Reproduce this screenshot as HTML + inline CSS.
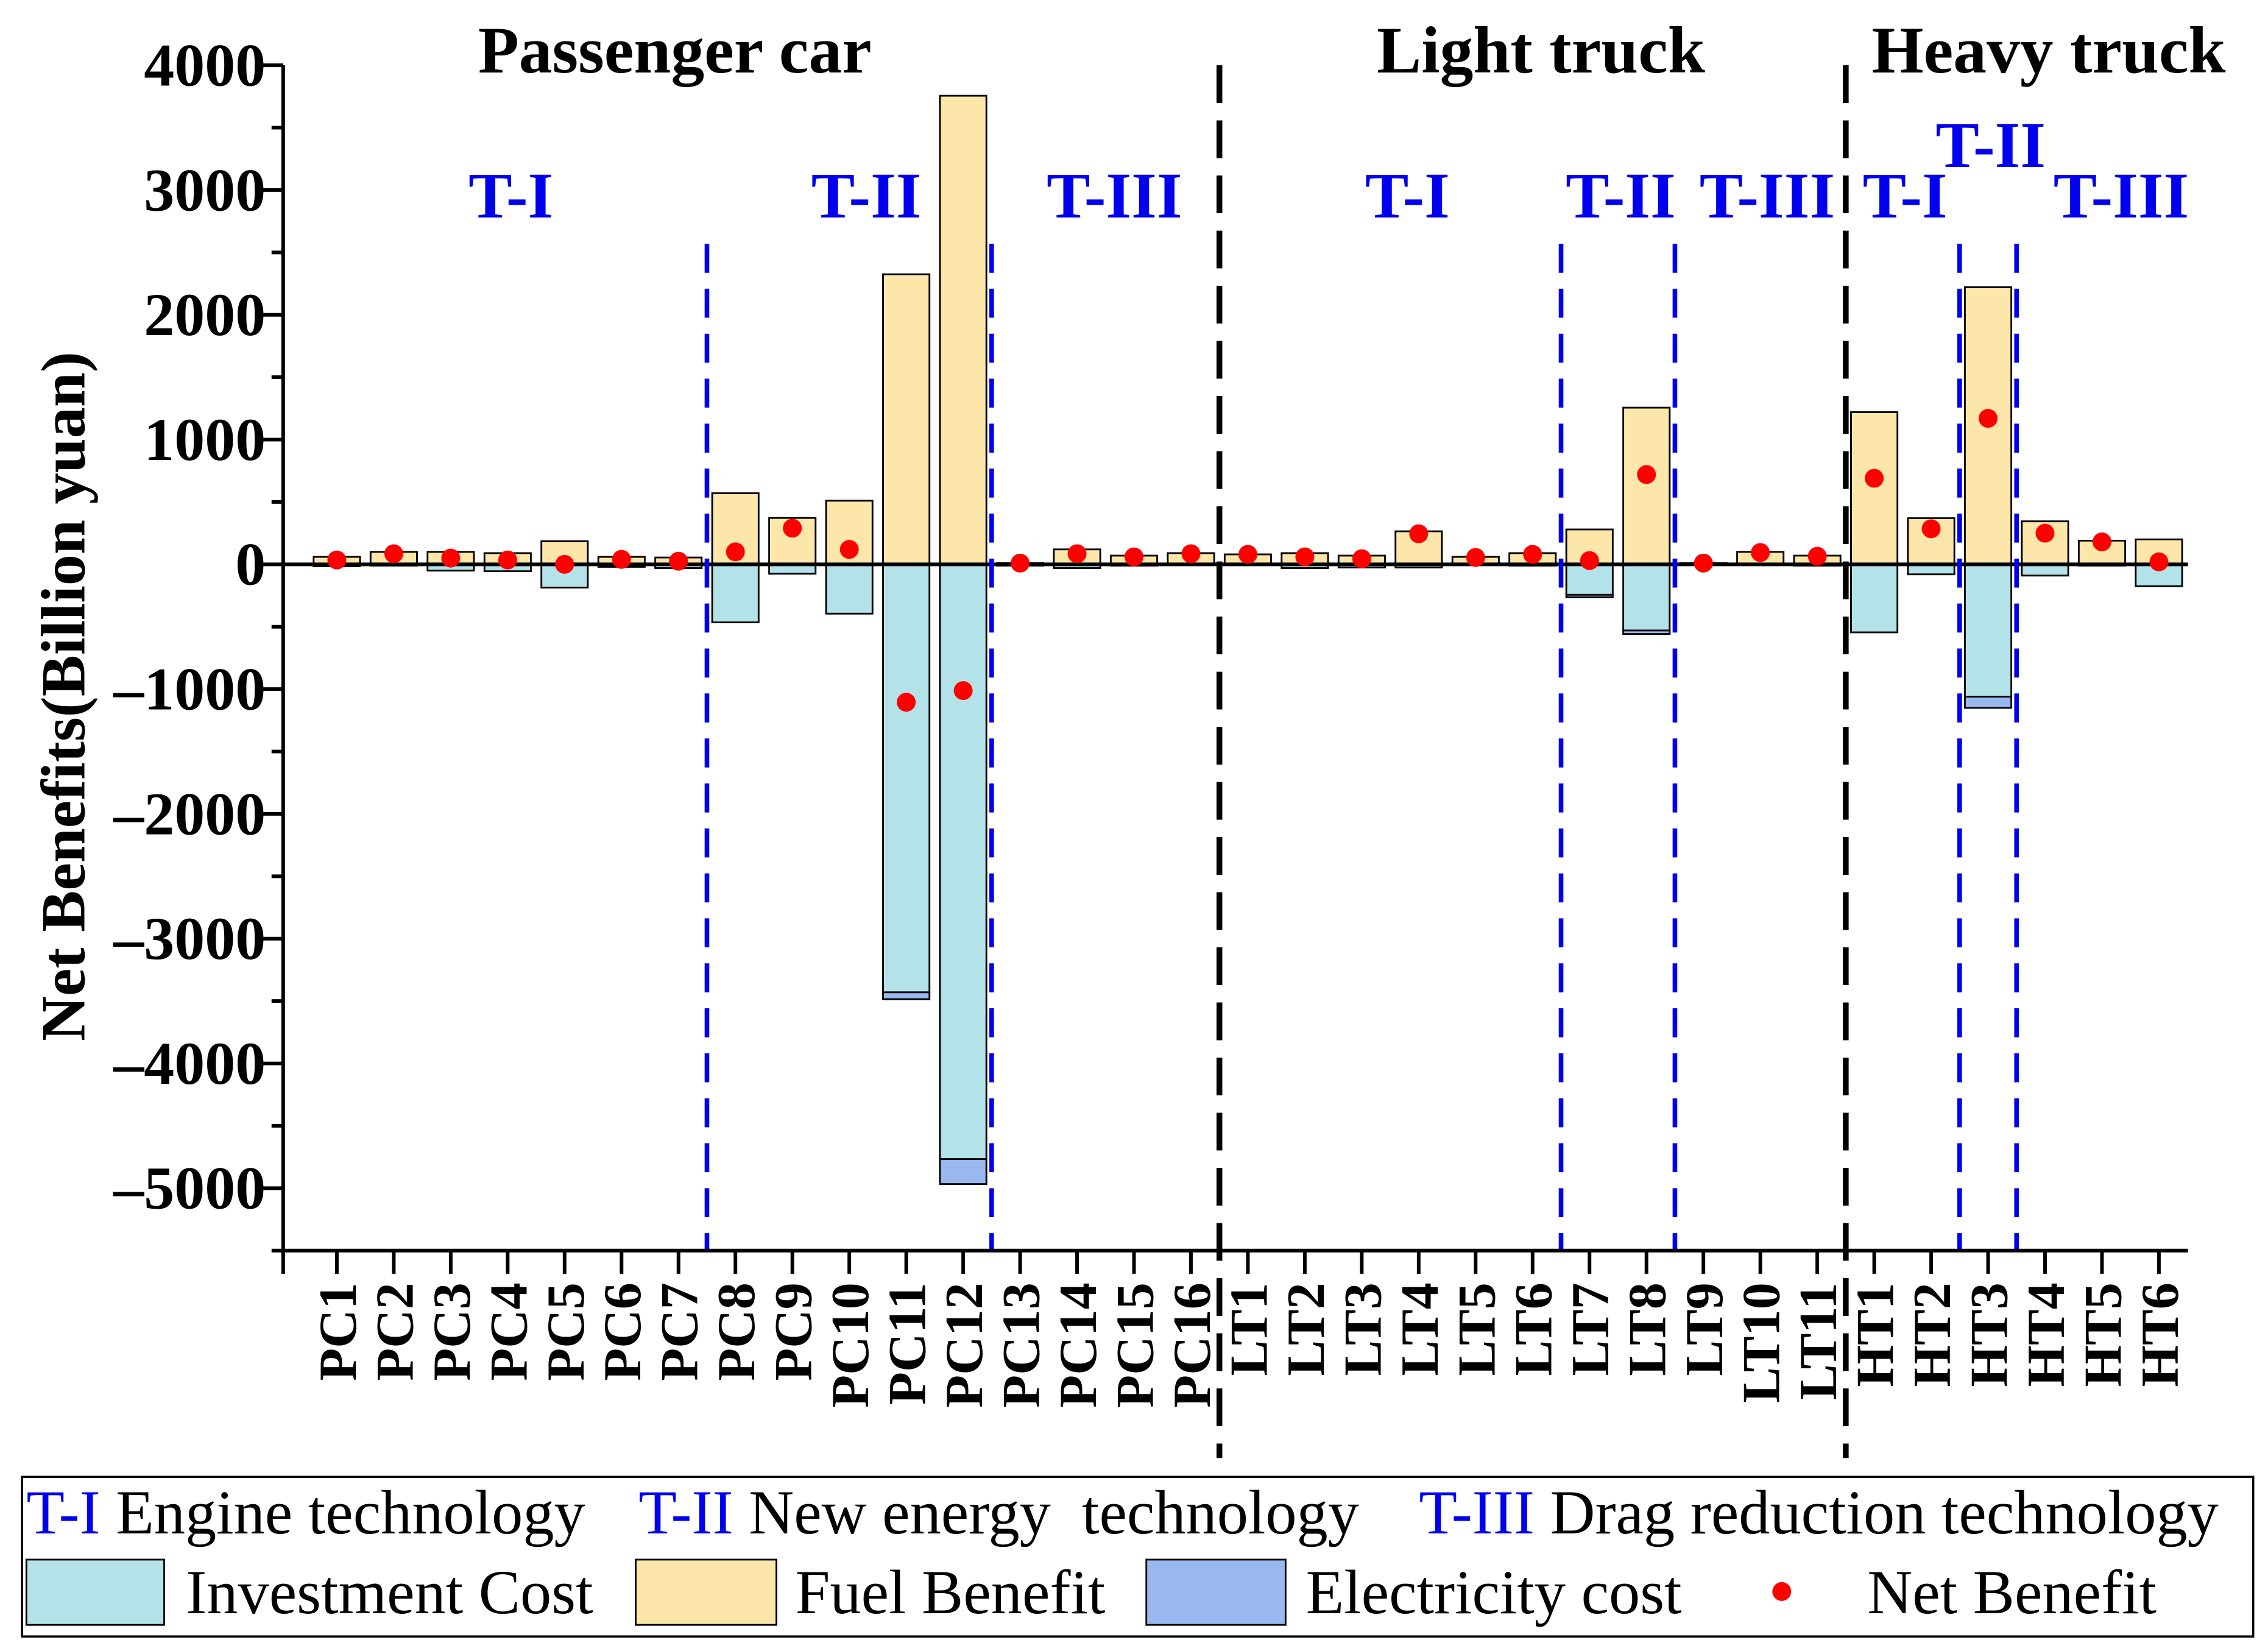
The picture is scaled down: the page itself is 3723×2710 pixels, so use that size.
<!DOCTYPE html>
<html><head><meta charset="utf-8"><style>
html,body{margin:0;padding:0;background:#fff}
svg{display:block}
text{font-family:"Liberation Serif","DejaVu Serif",serif}
</style></head><body>
<svg id="chart" xmlns="http://www.w3.org/2000/svg" width="3723" height="2710" viewBox="0 0 1563 1138" font-family="Liberation Serif, serif">
<rect x="0" y="0" width="1563" height="1138" fill="#fff"/>
<g id="plot"></g>
<g id="legend" font-family="Liberation Serif, serif">
<rect x="15" y="1018" width="1538" height="110" fill="#fff" stroke="#000" stroke-width="1.5"/>
<text x="18" y="1057" font-size="43"><tspan fill="#0000ee">T-I</tspan> Engine technology</text>
<text x="440" y="1057" font-size="43" xml:space="preserve"><tspan fill="#0000ee">T-II</tspan> New energy  technology</text>
<text x="978" y="1057" font-size="43"><tspan fill="#0000ee">T-III</tspan> Drag reduction technology</text>
<rect x="18" y="1075" width="95" height="45" fill="#b3e3e8" stroke="#000" stroke-width="1.2"/>
<text x="128" y="1112" font-size="43">Investment Cost</text>
<rect x="438" y="1075" width="97" height="45" fill="#fde6aa" stroke="#000" stroke-width="1.2"/>
<text x="548" y="1112" font-size="43">Fuel Benefit</text>
<rect x="790" y="1075" width="96" height="45" fill="#9ab8f0" stroke="#000" stroke-width="1.2"/>
<text x="900" y="1112" font-size="43">Electricity cost</text>
<circle cx="1228" cy="1097" r="6.5" fill="#ff0000"/>
<text x="1287" y="1112" font-size="43">Net Benefit</text>
</g>
</svg>
<script>
const categories = ["PC1","PC2","PC3","PC4","PC5","PC6","PC7","PC8","PC9","PC10","PC11","PC12","PC13","PC14","PC15","PC16","LT1","LT2","LT3","LT4","LT5","LT6","LT7","LT8","LT9","LT10","LT11","HT1","HT2","HT3","HT4","HT5","HT6"];
const fuelBenefit = [60,100,100,90,185,60,55,570,372,510,2325,3756,10,120,70,90,80,90,70,265,60,90,280,1256,10,100,70,1220,370,2221,345,190,200];
const investmentCost = [-15,-10,-50,-55,-186,-20,-30,-465,-75,-395,-3430,-4767,-10,-30,-10,-5,-5,-30,-25,-25,-5,-10,-244,-530,-5,-5,-10,-545,-80,-1060,-90,-10,-175];
const electricityCost = [0,0,0,0,0,0,0,0,0,0,-55,-200,0,0,0,0,0,0,0,0,0,0,-20,-28,0,0,0,0,0,-90,0,0,0];
const netBenefit = [35,85,50,35,0,40,25,100,290,120,-1105,-1012,10,85,60,85,80,60,45,245,55,80,30,720,10,95,65,690,285,1170,250,180,20];
const yTicks = [4000,3000,2000,1000,0,-1000,-2000,-3000,-4000,-5000];
const yTickLabels = ["4000","3000","2000","1000","0","\u20131000","\u20132000","\u20133000","\u20134000","\u20135000"];
const groupTitles = [["Passenger car",465],["Light truck",1062],["Heavy truck",1412]];
const techLabels = [["T-I",352,150],["T-II",597,150],["T-III",768,150],["T-I",970,150],["T-II",1117,150],["T-III",1218,150],["T-I",1313,150],["T-II",1372,115],["T-III",1462,150]];
const groupDividers = [15.5,26.5];
const techDividers = [6.5,11.5,21.5,23.5,28.5,29.5];

const NS="http://www.w3.org/2000/svg";
const plot=document.getElementById('plot');
const X0=195, X1=1508, YT=45, YB=862, STEP=39.25, BW=32;
function xs(i){return 232+STEP*i;}
function ys(v){return 389 - v*0.086;}
function mk(tag,attrs,parent){const e=document.createElementNS(NS,tag);for(const k in attrs)e.setAttribute(k,attrs[k]);if(tag==='text')e.setAttribute('font-family','Liberation Serif, serif');(parent||plot).appendChild(e);return e;}

categories.forEach((c,i)=>{
  const x=xs(i)-BW/2;
  const f=mk('rect',{x:x,y:ys(fuelBenefit[i]),width:BW,height:ys(0)-ys(fuelBenefit[i]),fill:'#fde6aa',stroke:'#000','stroke-width':1.2});
  
  
  const inv=mk('rect',{x:x,y:ys(0),width:BW,height:ys(investmentCost[i])-ys(0),fill:'#b3e3e8',stroke:'#000','stroke-width':1.2});
  
  
  if(electricityCost[i]!==0){
    const top=investmentCost[i];
    const el=mk('rect',{x:x,y:ys(top),width:BW,height:ys(top+electricityCost[i])-ys(top),fill:'#9ab8f0',stroke:'#000','stroke-width':1.2});
    
    
  }
});
const zl=mk('line',{x1:X0,x2:X1,y1:ys(0),y2:ys(0),stroke:'#000','stroke-width':2.5});


categories.forEach((c,i)=>{
  const p=mk('circle',{cx:xs(i),cy:ys(netBenefit[i]),r:6.5,fill:'#ff0000'});
  
  
});
groupDividers.forEach(d=>{
  const l=mk('line',{x1:xs(d),x2:xs(d),y1:YT,y2:1005,stroke:'#000','stroke-width':4,'stroke-dasharray':'26 12'});
  
  
});
techDividers.forEach(d=>{
  const l=mk('line',{x1:xs(d),x2:xs(d),y1:168,y2:YB,stroke:'#0000ee','stroke-width':3.2,'stroke-dasharray':'20 11'});
  
  
});
const ya=mk('line',{x1:X0,x2:X0,y1:YT,y2:YB,stroke:'#000','stroke-width':2.5});


const xa=mk('line',{x1:X0,x2:X1,y1:YB,y2:YB,stroke:'#000','stroke-width':2.5});


yTicks.forEach((v,k)=>{
  const t=mk('line',{x1:X0-15,x2:X0,y1:ys(v),y2:ys(v),stroke:'#000','stroke-width':2.5});
  
  
  const lb=mk('text',{x:183,y:ys(v)+14,'font-size':42,'font-weight':'bold','text-anchor':'end'});
  lb.textContent=yTickLabels[k];
  
  
  const mv=v-500;
  if(mv>=-5500){
    const m=mk('line',{x1:X0-8,x2:X0,y1:ys(mv),y2:ys(mv),stroke:'#000','stroke-width':2.5});
    
    
  }
});
const t0=mk('line',{x1:X0,x2:X0,y1:YB,y2:YB+16,stroke:'#000','stroke-width':2.5});


categories.forEach((c,i)=>{
  const t=mk('line',{x1:xs(i),x2:xs(i),y1:YB,y2:YB+16,stroke:'#000','stroke-width':2.5});
  
  
  const lb=mk('text',{x:0,y:0,'font-size':37,'font-weight':'bold','text-anchor':'end',transform:'translate('+(xs(i)+13)+','+(YB+22)+') rotate(-90)'});
  lb.textContent=c;
  
  
});
groupTitles.forEach(g=>{
  const t=mk('text',{x:g[1],y:50,'font-size':46,'font-weight':'bold','text-anchor':'middle'});
  t.textContent=g[0];
  
  
});
techLabels.forEach(g=>{
  const t=mk('text',{x:g[1],y:g[2],'font-size':45,'font-weight':'bold','text-anchor':'middle',fill:'#0000ee'});
  t.textContent=g[0];
  
  
});
const yt=mk('text',{x:0,y:0,'font-size':43,'font-weight':'bold','text-anchor':'middle',transform:'translate(58,480) rotate(-90)'});
yt.textContent='Net Benefits(Billion yuan)';


</script>
</body></html>
